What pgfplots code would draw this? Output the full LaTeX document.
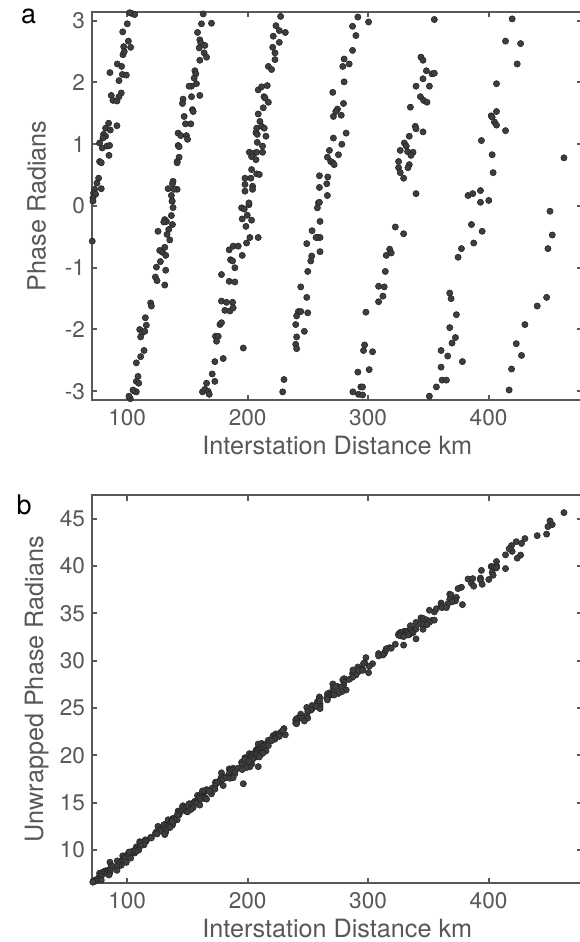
\documentclass[border=0pt]{standalone}
\usepackage{fontspec}
\setmainfont{TeX Gyre Heros}
\usepackage{pgfplots}
\pgfplotsset{compat=1.18}
\usepackage{pgfplotstable}
\definecolor{axgray}{RGB}{88,88,88}
\definecolor{mk}{RGB}{62,62,62}
\definecolor{mkedge}{RGB}{38,38,38}

% x = interstation distance (km), w = wrapped phase, u = unwrapped phase
\pgfplotstableread{
x w u
103.5 3.12 9.70
106.2 3.10 9.69
102.1 3.13 9.71
100.1 2.95 9.53
96.3 2.82 9.39
97.1 2.58 9.15
101.0 2.67 9.25
102.9 2.57 9.15
96.5 2.45 9.02
97.6 2.50 9.07
91.8 2.30 8.86
95.4 2.26 8.83
96.0 2.13 8.70
99.3 2.12 8.70
85.7 2.16 8.72
93.2 2.03 8.60
95.1 1.83 8.40
93.2 1.77 8.34
86.8 1.79 8.35
88.2 1.71 8.27
91.5 1.70 8.26
84.6 1.34 7.89
82.1 1.26 7.81
86.0 1.23 7.79
91.5 1.30 7.86
80.4 1.16 7.71
82.1 1.13 7.68
79.9 1.10 7.65
77.1 1.02 7.56
79.3 0.94 7.49
83.2 0.97 7.52
85.4 0.98 7.53
84.9 0.82 7.37
77.1 0.72 7.26
78.5 0.70 7.24
76.3 0.45 6.99
74.9 0.37 6.91
78.5 0.28 6.82
73.0 0.27 6.80
72.1 0.21 6.74
73.8 0.19 6.73
71.6 0.13 6.66
71.6 0.08 6.61
71.0 -0.57 nan
137.3 0.077 13.00
138.1 -0.026 12.90
136.7 -0.155 12.77
131.2 -0.22 12.70
132.6 -0.25 12.67
130.4 -0.26 12.66
137.6 -0.30 12.63
134.5 -0.38 12.54
133.1 -0.46 12.46
135.4 -0.55 12.37
125.6 -0.41 12.50
131.2 -0.67 12.25
127.0 -0.72 12.19
129.3 -0.75 12.16
132.0 -0.80 12.12
127.6 -0.90 12.01
124.3 -0.99 11.92
132.0 -1.04 11.88
123.4 -1.15 11.76
124.8 -1.21 11.70
131.2 -1.28 11.64
119.5 -1.57 11.33
120.1 -1.62 11.28
115.1 -1.81 11.08
110.4 -2.00 10.88
115.9 -1.93 10.96
112.6 -2.05 10.84
114.6 -2.03 10.86
111.2 -2.12 10.77
114.0 -2.34 10.55
111.2 -2.44 10.45
107.6 -2.54 10.34
109.0 -2.76 10.12
107.6 -2.84 10.04
109.6 -2.87 10.01
106.2 -3.00 9.88
107.6 -3.01 9.87
104.8 -2.98 9.90
102.6 -3.12 9.75
101.5 -3.08 9.79
163.1 3.11 16.08
161.7 2.95 15.92
170.0 2.96 15.94
158.4 2.81 15.77
160.3 2.69 15.65
161.1 2.64 15.61
164.5 2.60 15.57
159.8 2.56 15.52
163.9 2.48 15.45
165.9 2.41 15.38
160.3 2.36 15.32
156.2 2.19 15.15
157.0 2.14 15.10
155.6 2.07 15.03
157.5 1.98 14.94
153.4 1.94 14.89
151.4 1.94 14.89
146.4 1.73 14.67
145.9 1.66 14.60
153.4 1.77 14.72
160.3 1.79 14.75
154.2 1.56 14.51
154.8 1.53 14.48
147.3 1.45 14.39
148.4 1.33 14.27
152.8 1.33 14.28
142.3 1.18 14.12
144.5 1.14 14.08
149.2 1.14 14.09
150.1 1.08 14.03
142.3 0.98 13.92
143.1 0.96 13.90
143.1 0.79 13.73
141.5 0.72 13.65
141.5 0.70 13.63
138.1 0.40 13.33
137.6 0.36 13.29
134.0 0.28 13.20
141.5 0.27 13.20
139.0 0.27 13.20
136.7 0.17 13.10
137.3 0.08 13.01
195.0 -0.03 19.27
197.2 -0.05 19.25
201.1 0.02 19.33
195.5 -0.21 19.09
199.7 -0.15 19.16
203.3 -0.23 19.08
198.6 -0.33 18.98
201.9 -0.51 18.80
208.8 -0.51 18.81
199.1 -0.60 18.71
188.0 -0.65 18.64
192.2 -0.65 18.65
184.7 -0.71 18.57
195.5 -0.80 18.50
185.8 -0.87 18.42
187.5 -0.89 18.40
189.4 -1.00 18.29
178.3 -1.11 18.16
184.7 -1.22 18.06
189.4 -1.23 18.06
178.3 -1.54 17.73
182.5 -1.56 17.72
187.5 -1.56 17.73
181.1 -1.69 17.59
185.3 -1.70 17.58
188.0 -1.65 17.64
177.0 -1.92 17.35
178.3 -1.89 17.38
173.3 -2.11 17.16
175.6 -2.11 17.16
174.2 -2.19 17.08
196.4 -2.30 17.00
172.8 -2.52 16.74
179.7 -2.47 16.81
170.6 -2.72 16.54
172.8 -2.84 16.42
165.9 -2.87 16.38
162.5 -3.01 16.24
164.5 -2.97 16.28
167.2 -3.00 16.25
168.1 -3.05 16.21
227.4 3.07 22.42
223.5 2.92 22.27
226.3 2.84 22.19
231.3 2.81 22.17
221.3 2.75 22.09
226.3 2.65 22.00
220.8 2.57 21.91
222.7 2.48 21.82
222.7 2.37 21.71
217.2 2.26 21.60
219.9 2.21 21.55
208.8 1.88 21.20
211.6 1.93 21.26
216.3 1.95 21.28
213.6 1.77 21.10
214.4 1.75 21.08
217.2 1.68 21.02
213.0 1.59 20.92
208.8 1.49 20.81
210.2 1.37 20.69
207.5 1.26 20.58
211.6 1.29 20.62
213.8 1.26 20.59
206.9 1.19 20.51
208.0 1.16 20.48
215.2 1.13 20.46
208.0 1.03 20.35
212.4 0.97 20.30
212.4 0.87 20.20
201.4 0.87 20.18
204.7 0.85 20.17
207.5 0.87 20.19
203.3 0.80 20.11
206.9 0.75 20.07
203.3 0.59 19.90
207.5 0.52 19.84
209.7 0.51 19.83
197.8 0.45 19.75
202.7 0.45 19.76
197.8 0.35 19.65
204.1 0.32 19.63
197.8 0.24 19.54
204.1 0.27 19.58
201.1 0.05 19.36
258.8 0.05 25.73
257.9 -0.03 25.65
260.1 -0.25 25.43
253.5 -0.40 25.27
258.2 -0.51 25.17
260.1 -0.51 25.17
256.8 -0.51 25.17
249.1 -0.61 25.06
260.1 -0.74 24.94
253.2 -0.81 24.86
252.4 -0.89 24.78
249.9 -1.06 24.61
244.1 -1.31 24.35
249.1 -1.48 24.19
242.1 -1.71 23.95
244.1 -1.71 23.95
240.7 -1.78 23.87
249.9 -1.73 23.94
239.9 -1.92 23.73
247.1 -2.03 23.63
240.7 -2.12 23.53
239.9 -2.24 23.41
240.7 -2.31 23.34
230.2 -2.81 22.83
229.1 -3.01 22.63
270.7 1.84 27.54
271.2 1.45 27.15
271.2 1.10 26.80
267.9 0.90 26.60
266.2 0.79 26.48
269.0 0.72 26.42
270.7 0.70 26.40
259.6 0.49 26.17
266.5 0.47 26.16
265.7 0.36 26.05
259.6 0.30 25.98
266.2 0.17 25.86
259.6 0.06 25.74
291.5 3.06 28.79
300.4 2.98 28.73
287.1 2.91 28.64
289.9 2.76 28.49
287.1 2.52 28.25
280.1 2.38 28.10
279.0 2.26 27.97
284.3 2.30 28.02
280.1 2.01 27.73
279.6 1.66 27.38
274.6 1.57 27.28
273.2 1.53 27.24
277.7 1.47 27.18
281.8 1.18 26.90
278.2 1.00 26.71
275.4 0.83 26.54
271.8 0.67 26.37
355.0 3.02 35.15
343.9 2.41 34.52
345.6 2.36 34.47
348.4 2.19 34.31
353.1 2.14 34.26
355.0 2.15 34.28
345.6 2.06 34.17
339.8 1.94 34.04
350.9 1.94 34.06
343.4 1.77 33.88
346.1 1.71 33.82
348.9 1.68 33.80
335.1 1.60 33.69
339.2 1.29 33.39
339.8 1.25 33.35
345.6 1.20 33.31
334.2 1.13 33.22
330.1 1.02 33.11
331.7 0.97 33.06
326.7 0.90 32.98
332.8 0.88 32.97
337.3 0.87 32.97
335.6 0.82 32.92
325.3 0.72 32.80
334.2 0.67 32.76
325.3 0.62 32.70
333.1 0.62 32.71
326.7 0.54 32.62
329.5 0.45 32.54
339.8 0.20 32.30
322.6 -0.34 31.73
329.5 -0.45 31.64
317.9 -0.70 31.37
319.2 -0.76 31.31
315.1 -0.80 31.26
314.3 -1.06 31.00
308.7 -1.30 30.75
313.4 -1.31 30.75
312.3 -1.46 30.60
308.7 -1.55 30.50
298.2 -1.72 30.32
297.1 -2.25 29.78
296.2 -2.34 29.69
303.7 -2.36 29.68
291.5 -2.69 29.33
300.9 -2.65 29.39
294.0 -2.93 29.10
295.4 -2.93 29.10
287.4 -3.01 29.01
292.1 -3.05 28.97
295.4 -3.06 28.97
383.0 0.17 38.62
386.9 0.20 38.66
393.3 0.25 38.72
393.3 0.06 38.53
400.2 0.09 38.57
385.8 -0.30 38.16
394.7 -0.41 38.06
387.7 -0.60 37.86
377.5 -0.69 37.75
374.7 -0.83 37.61
367.8 -1.41 37.02
368.9 -1.50 36.93
373.3 -1.76 36.68
367.8 -1.97 36.46
372.5 -2.13 36.31
369.7 -2.22 36.21
360.6 -2.34 36.08
366.1 -2.43 35.99
378.3 -2.52 35.92
360.6 -2.61 35.81
361.4 -2.82 35.60
365.0 -2.82 35.60
356.7 -2.93 35.48
350.9 -3.08 35.32
419.6 3.03 41.54
414.1 2.67 41.17
426.6 2.63 41.15
423.8 2.30 40.82
406.6 1.98 40.47
406.6 1.53 40.02
402.2 1.46 39.94
403.0 1.44 39.92
404.9 1.36 39.85
406.6 1.31 39.80
414.1 1.22 39.72
394.1 1.06 39.53
403.0 0.83 39.31
403.8 0.54 39.02
451.0 -0.085 44.76
452.9 -0.47 44.37
449.3 -0.69 44.15
448.2 -1.48 43.36
440.4 -1.62 43.20
430.2 -1.92 42.89
423.0 -2.23 42.56
427.4 -2.42 42.38
419.1 -2.64 42.15
417.1 -2.98 41.81
462.6 0.78 45.63
}\phasedata

\pgfplotsset{
  panel/.style={
    scale only axis, width=245.25pt, height=194pt,
    xmin=70.8, xmax=478,
    xtick={100,200,300,400}, xticklabels={100,200,300,400},
    tick align=inside, major tick length=2.6pt,
    axis line style={draw=axgray, line width=1pt},
    major tick style={draw=axgray, line width=1pt},
    tick label style={font=\fontsize{11.3}{13}\selectfont, text=axgray},
    xticklabel style={yshift=-1.2pt},
    label style={font=\fontsize{12.6}{15}\selectfont, text=axgray},
    xlabel style={at={(axis description cs:0.5,-0.1175)}, anchor=center},
    ylabel style={at={(axis description cs:-0.113,0.5)}, anchor=center},
    xlabel={Interstation Distance km},
  },
  dots/.style={only marks, mark=*, mark size=1.55pt,
    mark options={fill=mk, draw=mkedge, line width=0.3pt}},
}

\begin{document}
\begin{tikzpicture}
\begin{axis}[panel, at={(46pt,271pt)}, anchor=south west,
  ymin=-3.14159, ymax=3.14159,
  ytick={-3,-2,-1,0,1,2,3}, yticklabels={-3,-2,-1,0,1,2,3},
  ylabel={Phase Radians}]
\addplot[dots] table[x=x, y=w] {\phasedata};
\end{axis}
\begin{axis}[panel, at={(46pt,29.35pt)}, anchor=south west,
  ymin=6.49, ymax=47.46,
  ytick={10,15,20,25,30,35,40,45}, yticklabels={10,15,20,25,30,35,40,45},
  ylabel={Unwrapped Phase Radians}]
\addplot[dots] table[x=x, y=u] {\phasedata};
\end{axis}
\node[anchor=base west, font=\fontsize{13.5}{15}\selectfont] at (7.0pt,459pt) {a};
\node[anchor=base west, font=\fontsize{13.5}{15}\selectfont] at (4.8pt,213.5pt) {b};
\pgfresetboundingbox
\path[use as bounding box] (0,0) rectangle (289.5pt,471pt);
\end{tikzpicture}
\end{document}
